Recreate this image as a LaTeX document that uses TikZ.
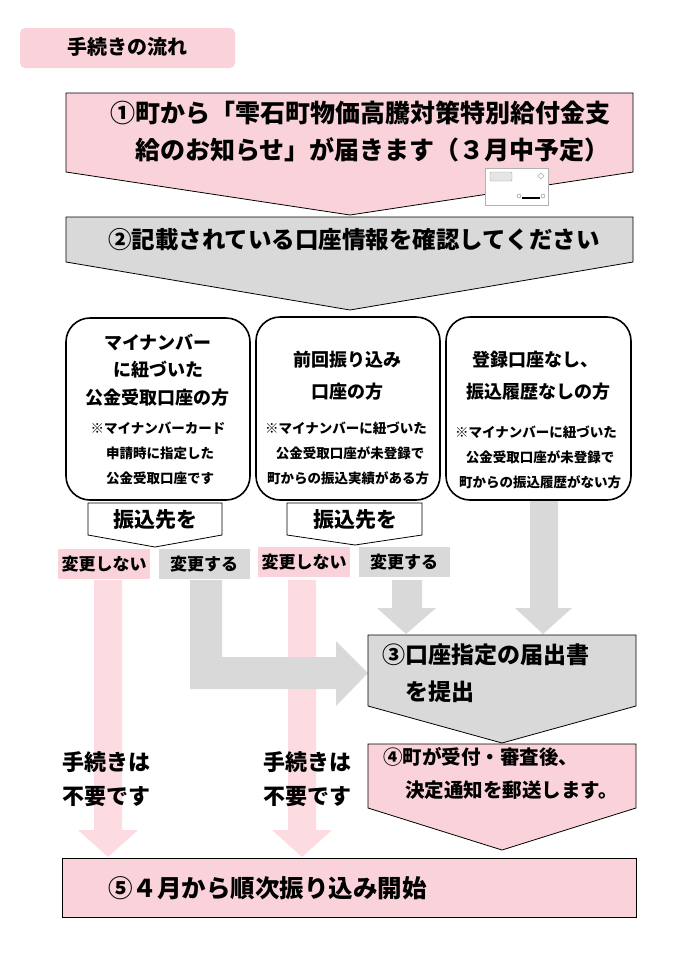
\documentclass[tikz,border=0pt]{standalone}
\usepackage{fontspec}
\setmainfont{Noto Sans CJK JP}
\newcommand{\myfs}[1]{\fontsize{#1}{#1}\selectfont}
\definecolor{pk}{HTML}{FAD3DA}
\definecolor{pkl}{HTML}{FCDCE1}
\definecolor{gr}{HTML}{D9D9D9}
\begin{document}
\begin{tikzpicture}[x=1pt,y=-1pt,
  stepshape/.style={draw=black,line width=0.8pt},
  lt/.style={anchor=west,inner sep=0pt},
  bx/.style={draw=black,line width=1.6pt,rounded corners=24pt},
  bt/.style={inner sep=0pt,font=\myfs{18}\bfseries},
  st/.style={inner sep=0pt,font=\myfs{13.5}\bfseries},
  lab/.style={inner sep=0pt,font=\myfs{17}\bfseries}]
\useasboundingbox (0,0) rectangle (675,975);
\fill[white] (0,0) rectangle (675,975);
% title
\fill[pk,rounded corners=5pt] (20,28) rectangle (235,68);
\node[lt,font=\myfs{20}\bfseries] (title) at (67,47) {手続きの流れ};
% step1
\path[stepshape,fill=pk] (66,93) -- (633,93) -- (633,172) -- (350,215) -- (66,172) -- cycle;
\node[lt,font=\myfs{25}\bfseries] (s1a) at (110,113) {①町から「雫石町物価高騰対策特別給付金支};
\node[lt,font=\myfs{25}\bfseries] (s1b) at (135,150) {給のお知らせ」が届きます（３月中予定）};
% envelope
\draw[gray!60,fill=white,line width=0.4pt] (485,168) rectangle (548,205);
\draw[gray!70,fill=gray!20,rounded corners=1pt] (490,172) rectangle (512,181);
\draw[gray] (541,176) circle (2.5);
\fill[black] (522,197) rectangle (540,199);
\draw[gray] (519,196) circle (2);
\draw[gray] (543,196) circle (2);
% step2
\path[stepshape,fill=gr] (66,217) -- (633,217) -- (633,262) -- (350,310) -- (66,262) -- cycle;
\node[lt,font=\myfs{23.5}\bfseries] (s2) at (108,240) {②記載されている口座情報を確認してください};
% arrows (behind)
\fill[pkl] (94,580) -- (122,580) -- (122,830) -- (138,830) -- (108,857) -- (78,830) -- (94,830) -- cycle;
\fill[pkl] (288,580) -- (316,580) -- (316,830) -- (332,830) -- (302,857) -- (272,830) -- (288,830) -- cycle;
\fill[gr] (190,580) -- (222,580) -- (222,657) -- (336,657) -- (336,641) -- (368,673) -- (336,706) -- (336,689) -- (190,689) -- cycle;
\fill[gr] (392,580) -- (422,580) -- (422,608) -- (436,608) -- (406,634) -- (377,608) -- (392,608) -- cycle;
\fill[gr] (530,500) -- (558,500) -- (558,608) -- (572,608) -- (543,634) -- (515,608) -- (530,608) -- cycle;
% three boxes
\draw[bx,fill=white] (66,318) rectangle (250,500);
\draw[bx,fill=white] (256,317) rectangle (440,500);
\draw[bx,fill=white] (446,317) rectangle (631,500);
\node[bt] (b1a) at (158,342) {マイナンバー};
\node[bt] (b1b) at (158,370) {に紐づいた};
\node[bt] (b1c) at (157,398) {公金受取口座の方};
\node[st] (b1d) at (158,428) {※マイナンバーカード};
\node[st] (b1e) at (160,453) {申請時に指定した};
\node[st] (b1f) at (160,478) {公金受取口座です};
\node[bt] (b2a) at (347,360) {前回振り込み};
\node[bt] (b2b) at (347,392) {口座の方};
\node[st] (b2c) at (346,428) {※マイナンバーに紐づいた};
\node[st] (b2d) at (350,453) {公金受取口座が未登録で};
\node[st] (b2e) at (348,478) {町からの振込実績がある方};
\node[bt] (b3a) at (535,360) {登録口座なし、};
\node[bt] (b3b) at (538,392) {振込履歴なしの方};
\node[st] (b3c) at (536,432) {※マイナンバーに紐づいた};
\node[st] (b3d) at (540,457) {公金受取口座が未登録で};
\node[st] (b3e) at (540,482) {町からの振込履歴がない方};
% 振込先を pentagons
\path[draw=black,line width=0.8pt,fill=white] (88,503) -- (222,503) -- (222,535) -- (155,547) -- (88,535) -- cycle;
\node[inner sep=0pt,font=\myfs{21}\bfseries] (f1) at (155,520) {振込先を};
\path[draw=black,line width=0.8pt,fill=white] (287,503) -- (422,503) -- (422,535) -- (355,545) -- (287,535) -- cycle;
\node[inner sep=0pt,font=\myfs{21}\bfseries] (f2) at (355,520) {振込先を};
% labels
\fill[pk] (58,549) rectangle (150,579);
\node[lab] (l1) at (104,564) {変更しない};
\fill[gr] (159,549) rectangle (250,579);
\node[lab] (l2) at (204,564) {変更する};
\fill[pk] (258,547) rectangle (350,577);
\node[lab] (l3) at (304,562) {変更しない};
\fill[gr] (359,547) rectangle (450,577);
\node[lab] (l4) at (404,562) {変更する};
% step3
\path[stepshape,fill=gr] (368,635) -- (636,635) -- (636,706) -- (502,743) -- (368,706) -- cycle;
\node[lt,font=\myfs{23}\bfseries] (s3a) at (382,655) {③口座指定の届出書};
\node[lt,font=\myfs{23}\bfseries] (s3b) at (405,692) {を提出};
% step4
\path[stepshape,fill=pk] (368,744) -- (636,744) -- (636,808) -- (502,850) -- (368,808) -- cycle;
\node[lt,font=\myfs{19.5}\bfseries] (s4a) at (383,757) {④町が受付・審査後、};
\node[lt,font=\myfs{19.5}\bfseries] (s4b) at (405,790) {決定通知を郵送します。};
% no procedure
\node[lt,font=\myfs{22}\bfseries] (n1a) at (62,762) {手続きは};
\node[lt,font=\myfs{22}\bfseries] (n1b) at (62,797) {不要です};
\node[lt,font=\myfs{22}\bfseries] (n2a) at (263,762) {手続きは};
\node[lt,font=\myfs{22}\bfseries] (n2b) at (263,797) {不要です};
% step5
\draw[stepshape,fill=pk] (62,858) rectangle (636,917);
\node[lt,font=\myfs{24.5}\bfseries] (s5) at (108,888) {⑤４月から順次振り込み開始};
\end{tikzpicture}
\end{document}
